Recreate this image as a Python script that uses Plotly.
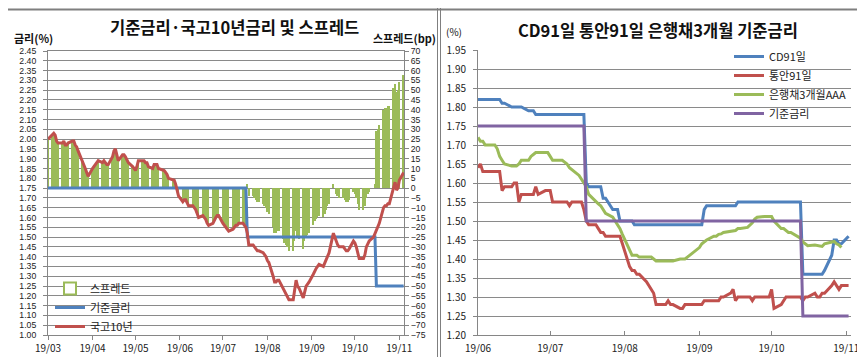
import plotly.graph_objects as go
import pandas as pd

FONT = "Noto Sans CJK KR"
NUMFONT = "Liberation Sans"

# ---------------- Left chart data (business days 2019-03-01 .. 2019-11-04) ----------------
left_dates = pd.bdate_range("2019-03-01", "2019-11-04")

ktb10 = [
    2.00,
    2.02, 2.03, 2.02, 1.99, 1.98,
    1.98, 1.99, 1.97, 1.97, 1.98,
    1.99, 1.99, 1.97, 1.96, 1.94,
    1.89, 1.87, 1.85, 1.83, 1.81,
    1.85, 1.86, 1.87, 1.88, 1.89,
    1.88, 1.89, 1.88, 1.87, 1.87,
    1.91, 1.94, 1.95, 1.92, 1.89,
    1.92, 1.92, 1.91, 1.89, 1.88,
    1.86, 1.85, 1.84, 1.86, 1.89,
    1.89, 1.89, 1.88, 1.88, 1.86,
    1.85, 1.87, 1.87, 1.87, 1.85,
    1.84, 1.84, 1.83, 1.82, 1.80,
    1.79, 1.79, 1.77, 1.74, 1.71,
    1.68, 1.69, 1.69, 1.67, 1.66,
    1.66, 1.65, 1.64, 1.62, 1.60,
    1.61, 1.60, 1.59, 1.57, 1.56,
    1.57, 1.59, 1.60, 1.61, 1.61,
    1.57, 1.56, 1.55, 1.54, 1.53,
    1.54, 1.55, 1.56, 1.56, 1.57,
    1.57, 1.56, 1.55, 1.52, 1.46,
    1.46, 1.45, 1.44, 1.43, 1.43,
    1.42, 1.41, 1.40, 1.38, 1.37,
    1.30, 1.27, 1.27, 1.28, 1.28,
    1.24, 1.22, 1.21, 1.20, 1.18,
    1.18, 1.23, 1.28, 1.25, 1.24,
    1.19, 1.23, 1.25, 1.26, 1.27,
    1.31, 1.33, 1.34, 1.35, 1.36,
    1.35, 1.37, 1.39, 1.41, 1.42,
    1.52, 1.50, 1.47, 1.46, 1.45,
    1.45, 1.44, 1.43, 1.43, 1.44,
    1.48, 1.47, 1.45, 1.42, 1.39,
    1.39, 1.41, 1.45, 1.47, 1.48,
    1.50, 1.52, 1.54, 1.55, 1.57,
    1.65, 1.66, 1.66, 1.67, 1.67,
    1.76, 1.78, 1.74, 1.75, 1.79,
    1.83,
]

spread_bp = [
    25,
    27, 28, 27, 24, 23,
    23, 24, 22, 22, 23,
    24, 24, 22, 21, 19,
    14, 12, 10, 8, 6,
    10, 11, 12, 13, 14,
    13, 14, 13, 12, 12,
    16, 19, 20, 17, 14,
    17, 17, 16, 14, 13,
    11, 10, 9, 11, 14,
    14, 14, 13, 13, 11,
    10, 12, 12, 12, 10,
    9, 9, 8, 7, 5,
    4, 4, 2, -1, -4,
    -7, -6, -6, -8, -9,
    -9, -10, -11, -13, -15,
    -14, -15, -16, -18, -19,
    -18, -16, -15, -14, -14,
    -18, -19, -20, -21, -22,
    -21, -20, -19, -19, -18,
    -18, -19, -20, 2, -4,
    -4, -5, -6, -7, -7,
    -8, -9, -10, -12, -13,
    -20, -23, -23, -22, -22,
    -26, -28, -29, -30, -32,
    -32, -27, -22, -25, -26,
    -31, -27, -25, -24, -23,
    -19, -17, -16, -15, -14,
    -15, -13, -11, -9, -8,
    2, 0, -3, -4, -5,
    -5, -6, -7, -7, -6,
    -2, -3, -5, -8, -11,
    -11, -9, -5, -3, -2,
    0, 2, 29, 30, 32,
    40, 41, 41, 42, 42,
    51, 53, 49, 50, 54,
    58,
]

base_left_dates = ["2019-03-01", "2019-07-17", "2019-07-18", "2019-10-15", "2019-10-16", "2019-11-04"]
base_left_vals = [1.75, 1.75, 1.50, 1.50, 1.25, 1.25]

left_tickvals = ["2019-03-01", "2019-04-01", "2019-05-01", "2019-06-01", "2019-07-01",
                 "2019-08-01", "2019-09-01", "2019-10-01", "2019-11-01"]
left_ticktext = ["19/03", "19/04", "19/05", "19/06", "19/07", "19/08", "19/09", "19/10", "19/11"]

# ---------------- Right chart data (business days 2019-06-03 .. 2019-11-04) ----------------
right_dates = pd.bdate_range("2019-06-03", "2019-11-04")

cd91 = [
    1.82, 1.82, 1.82, 1.82, 1.82,
    1.82, 1.82, 1.82, 1.81, 1.81,
    1.80, 1.80, 1.80, 1.80, 1.80,
    1.79, 1.79, 1.79, 1.78, 1.78,
    1.78, 1.78, 1.78, 1.78, 1.78,
    1.78, 1.78, 1.78, 1.78, 1.78,
    1.78, 1.78, 1.78, 1.60, 1.59,
    1.59, 1.59, 1.59, 1.56, 1.56,
    1.53, 1.53, 1.53, 1.50, 1.50,
    1.50, 1.50, 1.49, 1.49, 1.49,
    1.49, 1.49, 1.49, 1.49, 1.49,
    1.49, 1.49, 1.49, 1.49, 1.49,
    1.49, 1.49, 1.49, 1.49, 1.49,
    1.49, 1.49, 1.49, 1.53, 1.54,
    1.54, 1.54, 1.54, 1.54, 1.54,
    1.54, 1.54, 1.54, 1.55, 1.55,
    1.55, 1.55, 1.55, 1.55, 1.55,
    1.55, 1.55, 1.55, 1.55, 1.55,
    1.55, 1.55, 1.55, 1.55, 1.55,
    1.55, 1.55, 1.36, 1.36, 1.36,
    1.36, 1.36, 1.36, 1.36, 1.37,
    1.41, 1.45, 1.45, 1.44, 1.44,
    1.46,
]

msb91 = [
    1.64, 1.65, 1.63, 1.63, 1.63,
    1.63, 1.63, 1.63, 1.58, 1.59,
    1.59, 1.60, 1.60, 1.55, 1.57,
    1.57, 1.57, 1.57, 1.59, 1.57,
    1.58, 1.58, 1.58, 1.55, 1.55,
    1.55, 1.55, 1.55, 1.54, 1.55,
    1.55, 1.55, 1.53, 1.50, 1.49,
    1.49, 1.48, 1.47, 1.47, 1.46,
    1.46, 1.46, 1.46, 1.46, 1.44,
    1.38, 1.37, 1.37, 1.36, 1.36,
    1.34, 1.33, 1.32, 1.31, 1.28,
    1.28, 1.28, 1.29, 1.28, 1.28,
    1.27, 1.27, 1.28, 1.28, 1.28,
    1.28, 1.28, 1.28, 1.29, 1.29,
    1.29, 1.29, 1.29, 1.30, 1.30,
    1.31, 1.32, 1.29, 1.30, 1.30,
    1.30, 1.30, 1.29, 1.30, 1.30,
    1.30, 1.30, 1.30, 1.32, 1.27,
    1.28, 1.29, 1.30, 1.30, 1.30,
    1.30, 1.30, 1.29, 1.30, 1.30,
    1.31, 1.30, 1.30, 1.31, 1.31,
    1.33, 1.34, 1.33, 1.32, 1.33,
    1.33,
]

bank3m = [
    1.72, 1.71, 1.71, 1.70, 1.70,
    1.70, 1.69, 1.67, 1.66, 1.65,
    1.645, 1.645, 1.645, 1.65, 1.66,
    1.66, 1.67, 1.675, 1.68, 1.68,
    1.68, 1.68, 1.67, 1.66, 1.66,
    1.66, 1.655, 1.65, 1.64, 1.635,
    1.62, 1.61, 1.60, 1.59, 1.57,
    1.55, 1.545, 1.54, 1.53, 1.52,
    1.51, 1.50, 1.49, 1.48, 1.465,
    1.42, 1.41, 1.41, 1.41, 1.405,
    1.405, 1.405, 1.405, 1.40, 1.395,
    1.395, 1.395, 1.395, 1.395, 1.395,
    1.40, 1.40, 1.40, 1.405, 1.41,
    1.425, 1.43, 1.44, 1.445, 1.45,
    1.46, 1.46, 1.465, 1.466, 1.47,
    1.474, 1.475, 1.475, 1.48, 1.48,
    1.483, 1.49, 1.495, 1.505, 1.51,
    1.512, 1.512, 1.512, 1.512, 1.50,
    1.48, 1.48, 1.475, 1.47, 1.47,
    1.46, 1.455, 1.445, 1.44, 1.435,
    1.437, 1.435, 1.433, 1.433, 1.44,
    1.446, 1.446, 1.44, 1.437, 1.43,
    None,
]

base_right_dates = ["2019-06-03", "2019-07-17", "2019-07-18", "2019-10-15", "2019-10-16", "2019-11-04"]
base_right_vals = [1.75, 1.75, 1.50, 1.50, 1.25, 1.25]

right_tickvals = ["2019-06-03", "2019-07-03", "2019-08-03", "2019-09-03", "2019-10-03", "2019-11-03"]
right_ticktext = ["19/06", "19/07", "19/08", "19/09", "19/10", "19/11"]

BLUE = "#4F81BD"
RED = "#C0504D"
GREEN = "#9BBB59"
PURPLE = "#8064A2"
GRID = "#8A8A8A"
AX = "#868686"

fig = go.Figure()

# Left chart
fig.add_trace(go.Bar(x=left_dates, y=spread_bp, xaxis="x", yaxis="y",
                     marker=dict(color=GREEN, line=dict(width=0)),
                     width=86400000, name="스프레드", showlegend=False))
fig.add_trace(go.Bar(x=[None], y=[None], xaxis="x", yaxis="y",
                     marker=dict(color="white", line=dict(color=GREEN, width=2)),
                     name="스프레드", legend="legend"))
fig.add_trace(go.Scatter(x=base_left_dates, y=base_left_vals, xaxis="x", yaxis="y2",
                         mode="lines", line=dict(color=BLUE, width=3), name="기준금리",
                         legend="legend"))
fig.add_trace(go.Scatter(x=left_dates, y=ktb10, xaxis="x", yaxis="y2",
                         mode="lines", line=dict(color=RED, width=3), name="국고10년",
                         legend="legend"))

# Right chart
fig.add_trace(go.Scatter(x=right_dates, y=cd91, xaxis="x2", yaxis="y3", mode="lines",
                         line=dict(color=BLUE, width=3), name="CD91일", legend="legend2"))
fig.add_trace(go.Scatter(x=right_dates, y=msb91, xaxis="x2", yaxis="y3", mode="lines",
                         line=dict(color=RED, width=3), name="통안91일", legend="legend2"))
fig.add_trace(go.Scatter(x=right_dates, y=bank3m, xaxis="x2", yaxis="y3", mode="lines",
                         line=dict(color=GREEN, width=3), name="은행채3개월AAA", legend="legend2"))
fig.add_trace(go.Scatter(x=base_right_dates, y=base_right_vals, xaxis="x2", yaxis="y3", mode="lines",
                         line=dict(color=PURPLE, width=3), name="기준금리", legend="legend2"))

W, H = 865, 357
ldom_x = [40 / W, 396 / W]
ldom_y = [1 - 327 / H, 1 - 43 / H]
rdom_x = [470 / W, 843 / W]
rdom_y = [1 - 327 / H, 1 - 42 / H]

tickfont = dict(family=FONT, size=10, color="#222222")
densefont = dict(family=NUMFONT, size=8.7, color="#222222")

fig.update_layout(
    width=W, height=H,
    margin=dict(l=0, r=0, t=0, b=0, autoexpand=False),
    paper_bgcolor="white", plot_bgcolor="white",
    font=dict(family=FONT, size=10, color="#222222"),
    bargap=0,
    xaxis=dict(domain=ldom_x, anchor="y", type="date", automargin=False,
               range=["2019-03-01", "2019-11-04 06:00"],
               tickvals=left_tickvals, ticktext=left_ticktext,
               showgrid=False, showline=True, linecolor=AX, linewidth=1, mirror=True,
               ticks="outside", ticklen=4, tickcolor=AX, tickfont=tickfont),
    yaxis=dict(domain=ldom_y, anchor="x", side="right", range=[-75, 70], dtick=5,
               tick0=0, showgrid=True, gridcolor=GRID, gridwidth=1, zeroline=False,
               automargin=False,
               showline=True, linecolor=AX, ticks="outside", ticklen=4, tickcolor=AX,
               tickfont=densefont),
    yaxis2=dict(domain=ldom_y, anchor="x", overlaying="y", side="left",
                range=[1.00, 2.45], dtick=0.05, tick0=1.0, tickformat=".2f",
                automargin=False, ticklabelstandoff=5,
                showgrid=False, zeroline=False, showline=True, linecolor=AX,
                ticks="outside", ticklen=4, tickcolor=AX, tickfont=densefont),
    xaxis2=dict(domain=rdom_x, anchor="y3", type="date", automargin=False,
                range=["2019-06-03", "2019-11-05"],
                tickvals=right_tickvals, ticktext=right_ticktext,
                showgrid=False, showline=True, linecolor=AX, linewidth=1,
                ticks="inside", ticklen=4, tickcolor=AX, tickfont=tickfont,
                ticklabelstandoff=4),
    yaxis3=dict(domain=rdom_y, anchor="x2", range=[1.20, 1.95], dtick=0.05, tick0=1.2,
                tickformat=".2f", showgrid=True, gridcolor=GRID, gridwidth=1,
                automargin=False, ticklabelstandoff=5,
                zeroline=False, showline=True, linecolor=AX, ticks="outside",
                ticklen=4, tickcolor=AX, tickfont=tickfont),
    legend=dict(x=42 / W, y=1 - 266 / H, xanchor="left", yanchor="top",
                bgcolor="rgba(0,0,0,0)", font=dict(family=FONT, size=11, color="#222222"),
                tracegroupgap=0, itemwidth=30, traceorder="normal"),
    legend2=dict(x=721 / W, y=1 - 34 / H, xanchor="left", yanchor="top",
                 bgcolor="rgba(0,0,0,0)", font=dict(family=FONT, size=11, color="#222222"),
                 tracegroupgap=0, itemwidth=30, traceorder="normal"),
    showlegend=True,
)

annots = [
    dict(text="<b>기준금리·국고10년금리 및 스프레드</b>", x=227 / W, y=1 - 19 / H,
         font=dict(family=FONT, size=16.5, color="#111111")),
    dict(text="<b>금리(%)</b>", x=25 / W, y=1 - 29.5 / H,
         font=dict(family=FONT, size=11, color="#111111")),
    dict(text="<b>스프레드(bp)</b>", x=396 / W, y=1 - 29.5 / H,
         font=dict(family=FONT, size=11, color="#111111")),
    dict(text="<b>CD91일 통안91일 은행채3개월 기준금리</b>", x=650 / W, y=1 - 22 / H,
         font=dict(family=FONT, size=16.5, color="#111111")),
    dict(text="(%)", x=446 / W, y=1 - 24 / H,
         font=dict(family=FONT, size=10, color="#111111")),
]
for a in annots:
    fig.add_annotation(xref="paper", yref="paper", showarrow=False,
                       xanchor="center", yanchor="middle", **a)

# panel frame lines
for sx in (429.5 / W, 432.5 / W):
    fig.add_shape(type="line", xref="paper", yref="paper", x0=sx, x1=sx, y0=0, y1=1,
                  line=dict(color="#7F7F7F", width=1))
fig.add_shape(type="line", xref="paper", yref="paper", x0=0, x1=1, y0=1 - 1.5 / H, y1=1 - 1.5 / H,
              line=dict(color="#7F7F7F", width=2))

fig.write_html("out.html")
